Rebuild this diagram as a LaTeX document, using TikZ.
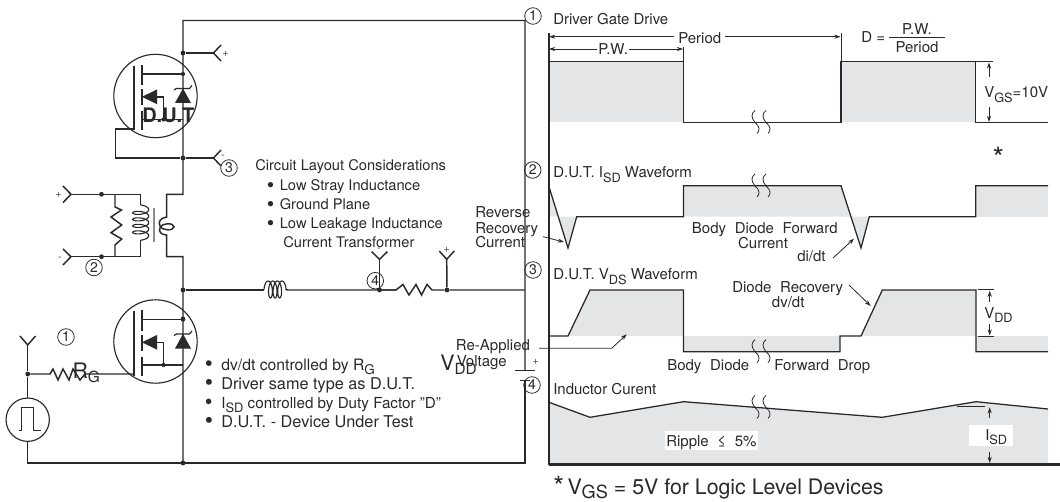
\documentclass[tikz,border=0pt]{standalone}
\usepackage{fontspec}
\setmainfont{TeX Gyre Heros}
\usetikzlibrary{arrows.meta}
\definecolor{ink}{HTML}{2B2829}
\definecolor{wavegray}{HTML}{E4E5E6}
\newcommand\subtxt[1]{\raisebox{-.3em}{\scalebox{.85}{#1}}}
\newcommand\bul[1]{\makebox[#1][l]{\raisebox{-.12em}{\scalebox{1.45}{\textbullet}}}}
\tikzset{
  wire/.style={line width=1.1pt,color=ink,line join=miter},
  thin wire/.style={line width=.75pt,color=ink},
  wave/.style={line width=.95pt,color=ink,line join=miter},
  dot/.style={circle,fill=ink,inner sep=0pt,minimum size=3.6pt},
  txt/.style={inner sep=0pt,anchor=base west,text=ink,font=\fontsize{11pt}{12pt}\selectfont},
  wtxt/.style={txt,font=\fontsize{11.25pt}{12pt}\selectfont},
  ctxt/.style={wtxt,anchor=base},
  ltxt/.style={txt,font=\fontsize{#1}{13pt}\selectfont},
  num/.style={circle,draw=ink,line width=.6pt,inner sep=0pt,minimum size=12.4pt,text=ink,font=\fontsize{10.5pt}{12pt}\selectfont},
  sign/.style={inner sep=0pt,text=ink!85,font=\fontsize{8pt}{9pt}\selectfont},
  arr/.style={line width=.6pt,color=ink,-{Stealth[length=4.6pt,width=3.1pt]}},
  fet/.pic={
    \draw[thin wire,line width=.85pt] (0,0) circle (41.7);
    \draw[wire] (-21.5,-30) -- (-21.5,34);
    \draw[wire] (-13.5,-31) -- (-13.5,-11) (-13.5,-7) -- (-13.5,9) (-13.5,15) -- (-13.5,34);
    \draw[wire] (-13.5,-22) -- (27.5,-22) (-13.5,23.5) -- (27.5,23.5);
    \fill[ink] (-13.5,.8) -- (1.5,-6.5) -- (1.5,8.2) -- cycle;
    \draw[wire] (1.5,.8) -- (8,.8) -- (8,23.5);
    \fill[ink] (27.5,-7.5) -- (35.5,7) -- (19.5,7) -- cycle;
    \draw[wire,line width=.9pt] (18.5,-6) -- (21,-7.5) -- (34,-7.5) -- (36.5,-10.5);
    \fill[ink] (27.5,-22) circle (2.1);
    \fill[ink] (8,23.5) circle (2.1);
  },
  brk/.pic={
    \draw[line width=.6pt,color=ink] (0,-12) .. controls (-4,-9) and (-4,-5) .. (0,0) .. controls (5,4) and (5,8) .. (2,11);
    \draw[line width=.6pt,color=ink] (11,-12) .. controls (7,-9) and (7,-5) .. (11,0) .. controls (16,4) and (16,8) .. (13,11);
  },
}
\begin{document}
\begin{tikzpicture}[x=.75pt,y=-.75pt]
\useasboundingbox (0,0) rectangle (1060,502);

% ---------- waveform shading
\fill[wavegray] (549,61.7) rectangle (683.5,122.5);
\fill[wavegray] (841,61.7) rectangle (975.7,122.5);
\fill[wavegray] (549,186.7) -- (568,248) -- (576.7,216.7) -- (549,216.7) -- cycle;
\fill[wavegray] (683.5,185.7) -- (841,185.7) -- (861,248) -- (869.3,216.7) -- (683.5,216.7) -- cycle;
\fill[wavegray] (975.7,185.7) rectangle (1048,216.7);
\fill[wavegray] (568,336) -- (590,290) -- (683.5,290) -- (683.5,336) -- cycle;
\fill[wavegray] (683.5,336) rectangle (840,351.7);
\fill[wavegray] (861,336) -- (882.3,290) -- (976,290) -- (976,336) -- cycle;
\fill[wavegray] (976,336) rectangle (1048,351.7);
\fill[wavegray] (549,402.3) -- (590,417.3) -- (683.5,401.7) -- (882.3,417.3) -- (976,401.7) -- (1048,409) -- (1048,464) -- (549,464) -- cycle;
\fill[white] (665,431) rectangle (757.7,450);
\fill[white] (969,425) rectangle (1012.7,446);

% ---------- circuit junctions
\node[dot] (ja) at (183,53) {};
\node[dot] (jb) at (183,158) {};
\node[dot] (jc) at (183,290) {};
\node[dot] (jd) at (183,319) {};
\node[dot] (je) at (183,463) {};
\node[dot] (jf) at (101.5,194.3) {};
\node[dot] (jg) at (101.5,256.7) {};
\node[dot] (jh) at (379.5,290) {};
\node[dot] (ji) at (447,290) {};
\node[dot] (jj) at (27.7,374) {};

\coordinate (tl) at (183,20.5);
\coordinate (tr) at (525,20.5);
\coordinate (br) at (525,463);
\coordinate (bl) at (27.7,463);
\coordinate (tp1) at (213.5,53);
\coordinate (tp3) at (213.5,158);
\coordinate (tpp) at (71,194.3);
\coordinate (tpm) at (71,256.7);
\coordinate (tp4) at (379.5,259.3);
\coordinate (tp5) at (446.7,259.3);
\coordinate (tpg) at (27.7,345);
\coordinate (plus) at (525,370.7);
\coordinate (minus) at (525,380.7);

% ---------- FETs
\pic at (155.5,96) {fet};
\pic at (155.5,341.5) {fet};

% ---------- main wires
\draw[wire] (je.center) -- (jd.center) -- (jc.center) -- (183,256.7) -- (166.7,256.7) -- (166.7,235)
  .. controls (162,235) and (158,232) .. (160,228) .. controls (162,222) and (174,223) .. (174,226.7)
  .. controls (174,231) and (162,231) .. (160,226) .. controls (158,222) and (160,218) .. (166.7,217)
  -- (166.7,194.3) -- (183,194.3) -- (jb.center) -- (ja.center) -- (tl) -- (tr) -- (plus);
\draw[wire] (minus) -- (br) -- (bl) -- (27.7,441.4);
\draw[wire] (ja) -- (tp1);
\draw[wire] (jb) -- (tp3);
\draw[wire] (134,129) -- (115.5,129) -- (115.5,158) -- (jb);

% terminals
\draw[wire] (221,45) -- (tp1) -- (221,61);
\draw[wire] (221,150) -- (tp3) -- (221,166);
\draw[wire] (63,186) -- (tpp) -- (63,202.6);
\draw[wire] (63,249) -- (tpm) -- (63,265);
\draw[wire] (371.7,251.7) -- (tp4) -- (387.3,251.7);
\draw[wire] (439.3,251) -- (tp5) -- (454.3,251);
\draw[wire] (20,336) -- (tpg) -- (35.5,336);
\draw[wire] (tpg) -- (jj) -- (27.7,398);

% transformer
\draw[wire] (tpp) -- (jf) -- (115,194.3) -- (140.7,194.3) -- (140.7,205);
\draw[wire] (tpm) -- (jg) -- (115,256.7) -- (140.7,256.7) -- (140.7,240);
\draw[wire] (115,194.3) -- (115,207) -- (121.5,210) -- (111,217) -- (121.7,225) -- (111,232.7) -- (121.7,239) -- (115,245) -- (115,256.7);
\draw[wire,line width=.85pt] plot[domain=0:1620,samples=130,variable=\t] ({140.7+8*sin(\t)},{208+6.5*\t/360-3*cos(\t)});
\draw[line width=2.2pt,color=black!45] (154,207.7) -- (154,242);

% inductor and load resistor
\draw[wire] (jc) -- (264,290);
\draw[wire,line width=.85pt] plot[domain=0:1260,samples=110,variable=\t] ({267+4.6*\t/360-3*cos(\t)},{289.5-8.5*sin(\t)});
\draw[wire] (285.5,289.5) -- (288,290) -- (396,290) -- (jh);
\draw[wire] (jh) -- (396,290) -- (403,284.5) -- (409,295) -- (416,284.5) -- (421.5,295) -- (427,284.5) -- (432,290) -- (ji) -- (525,290);
\draw[wire] (jh) -- (tp4);
\draw[wire] (ji) -- (tp5);

% gate drive
\draw[wire] (jj) -- (50,374) -- (53,369) -- (58,380) -- (63,369) -- (69,380) -- (73,369) -- (80,380) -- (85,374) -- (134,374);
\node[circle,draw=ink,line width=.85pt,minimum size=32.5pt,inner sep=0pt] (pulse) at (27.7,419.7) {};
\draw[wire,line width=.7pt] (18.7,430) -- (21,430) -- (21,407) -- (33,407) -- (33,430) -- (40.7,430);
\draw[wire] (jj) -- (pulse);
\draw[wire] (pulse) -- (bl);

% battery
\draw[wire] (515,370.7) -- (535,370.7);
\draw[wire] (520,380.7) -- (530,380.7);

% ---------- waveforms
\draw[line width=1.2pt,color=ink] (548.7,33) -- (548.7,464.5);
\draw[line width=1.6pt,color=ink] (548.7,464.5) -- (1060,464.5);

\draw[wave] (549,61.7) -- (683.5,61.7) -- (683.5,122.5) -- (841,122.5) -- (841,61.7) -- (975.7,61.7) -- (975.7,122.5) -- (1048,122.5);
\draw[wave] (549,186.7) -- (568,248) -- (576.7,216.7) -- (683.5,216.7) -- (683.5,185.7) -- (841,185.7) -- (861,248) -- (869.3,216.7) -- (975.7,216.7) -- (975.7,185.7) -- (1048,185.7);
\draw[wave] (549,336) -- (568,336) -- (590,290) -- (683.5,290) -- (683.5,351.7) -- (840,351.7) -- (840,336) -- (861,336) -- (882.3,290) -- (976,290) -- (976,351.7) -- (1048,351.7);
\draw[wave] (549,402.3) -- (590,417.3) -- (683.5,401.7) -- (882.3,417.3) -- (976,401.7) -- (1048,409);
\pic at (755,186) {brk};
\pic at (755,122.5) {brk};
\pic at (755,351.7) {brk};
\pic at (755,407.5) {brk};

% ticks
\draw[thin wire] (683.5,47) -- (683.5,61.7);
\draw[thin wire] (841,33) -- (841,61.7);
\draw[thin wire] (976,61.7) -- (992.5,61.7);
\draw[thin wire] (978,290) -- (993.5,290);
\draw[thin wire] (978,336) -- (993.5,336);
\draw[thin wire] (957,406) -- (985,406);

% ---------- texts on the circuit
\node[txt,font=\fontsize{15pt}{16pt}\bfseries\selectfont] (dut) at (142,122.7) {D.U.T};
\node[sign] (s1) at (225.5,53.5) {+};
\node[sign] (s2) at (223,157) {-};
\node[sign] (s3) at (58.5,194.5) {+};
\node[sign] (s4) at (60,258.5) {-};
\node[sign] (s5) at (379,250) {-};
\node[sign] (s6) at (446.7,250) {+};
\node[sign] (s7) at (535.7,361.5) {+};
\node[num] (n3a) at (229,168) {3};
\node[num] (n2a) at (94,267.5) {2};
\node[num] (n1a) at (66,337) {1};
\node[num] (n4a) at (375.3,280.7) {4};
\node[num] (n1b) at (533,16) {1};
\node[num] (n2b) at (532.7,170) {2};
\node[num] (n3b) at (533,270) {3};
\node[num] (n4b) at (532,385) {4};

\node[txt] (c0) at (255,171) {Circuit Layout Considerations};
\node[txt] (c1) at (266.5,191) {\bul{9.8pt}Low Stray Inductance};
\node[txt] (c2) at (266.5,210) {\bul{9.8pt}Ground Plane};
\node[txt] (c3) at (266.5,229) {\bul{9.8pt}Low Leakage Inductance};
\node[txt] (c4) at (283,248) {Current Transformer};
\node[ltxt=11.8pt] (l1) at (204.5,370) {\bul{12.4pt}dv/dt controlled by R\subtxt{G}};
\node[ltxt=12.2pt] (l2) at (204.5,389) {\bul{12.4pt}Driver same type as D.U.T.};
\node[ltxt=11.4pt] (l3) at (204.5,408) {\bul{12.4pt}I\subtxt{SD} controlled by Duty Factor "D"};
\node[ltxt=12.2pt] (l4) at (204.5,427) {\bul{12.4pt}D.U.T. - Device Under Test};

\node[txt,font=\fontsize{16pt}{18pt}\selectfont] (rg) at (72.3,378) {R\raisebox{-.2em}{\scalebox{.72}{G}}};
\node[txt,font=\fontsize{16pt}{18pt}\selectfont] (vdd) at (440,370) {V\raisebox{-.2em}{\scalebox{.72}{DD}}};
\node[wtxt] (rev1) at (475,218) {Reverse};
\node[wtxt] (rev2) at (475,234) {Recovery};
\node[wtxt] (rev3) at (475,248) {Current};
\node[wtxt] (re1) at (455.7,350.7) {Re-Applied};
\node[wtxt] (re2) at (456.5,366.7) {Voltage};

% ---------- texts on the waveforms
\node[wtxt] (w1) at (553,25) {Driver Gate Drive};
\node[wtxt] (period) at (678,44) {Period};
\node[wtxt] (pw) at (598,55) {P.W.};
\node[wtxt] (d) at (861,43) {D =};
\node[ctxt] (dn) at (917,35) {P.W.};
\node[ctxt] (dd) at (917,52.7) {Period};
\node[wtxt] (vgs) at (984,98) {V\subtxt{GS}=10V};
\node[txt,font=\fontsize{22pt}{22pt}\selectfont] (star) at (992.3,169) {*};
\node[wtxt] (w2) at (553,178) {D.U.T. I\subtxt{SD} Waveform};
\node[wtxt] (bd1) at (691.7,234) {Body\hspace{.3em} Diode\hspace{.3em} Forward};
\node[ctxt] (bd2) at (763,249) {Current};
\node[wtxt] (didt) at (797,262) {di/dt};
\node[wtxt] (w3) at (553,280) {D.U.T. V\subtxt{DS} Waveform};
\node[wtxt] (dr1) at (732,293) {Diode\hspace{.3em} Recovery};
\node[wtxt] (dr2) at (771.7,307) {dv/dt};
\node[wtxt] (fd1) at (667,370) {Body\hspace{.3em} Diode};
\node[wtxt] (fd2) at (774,370) {Forward\hspace{.3em} Drop};
\node[wtxt] (vdd2) at (984,318) {V\subtxt{DD}};
\node[wtxt] (w4) at (553,394) {Inductor Curent};
\node[wtxt] (ripple) at (666,446.7) {Ripple\hspace{.3em} ≤\hspace{.3em} 5\%};
\node[wtxt] (isd) at (985,440) {I\subtxt{SD}};
\node[txt,font=\fontsize{16pt}{18pt}\selectfont] (foot) at (553,494.5) {\makebox[.389em][l]{\raisebox{-.1em}{\scalebox{1.3}{*}}} V\raisebox{-.2em}{\scalebox{.85}{GS}} = 5V for Logic Level Devices};

% ---------- dimension and pointer arrows
\draw[thin wire] (889,37.7) -- (945,37.7);
\coordinate (pl) at (549,36.7);
\coordinate (pr) at (840.5,36.7);
\coordinate (wl) at (549,49);
\coordinate (wr) at (683,49);
\draw[arr] ([xshift=-3pt]period.west |- pl) -- (pl);
\draw[arr] ([xshift=3pt]period.east |- pr) -- (pr);
\draw[arr] ([xshift=-.5pt]pw.west |- wl) -- (wl);
\draw[arr] ([xshift=.5pt]pw.east |- wr) -- (wr);
\draw[arr] (989,77) -- (989,62.5);
\draw[arr] (989,106.7) -- (989,122);
\draw[arr] (989.7,301.7) -- (989.7,290.7);
\draw[arr] (989.7,324) -- (989.7,335.5);
\draw[arr] (989.7,418) -- (989.7,407.3);
\draw[arr] (989.7,452) -- (989.7,463);
\draw[arr] (543,236.7) -- (564,242);
\draw[arr] (833,258) -- (854,238.7);
\draw[arr] (849,285) -- (870.7,306);
\draw[arr] (539,348.3) -- (611.7,348.3) -- (626.7,334.3);
\end{tikzpicture}
\end{document}
